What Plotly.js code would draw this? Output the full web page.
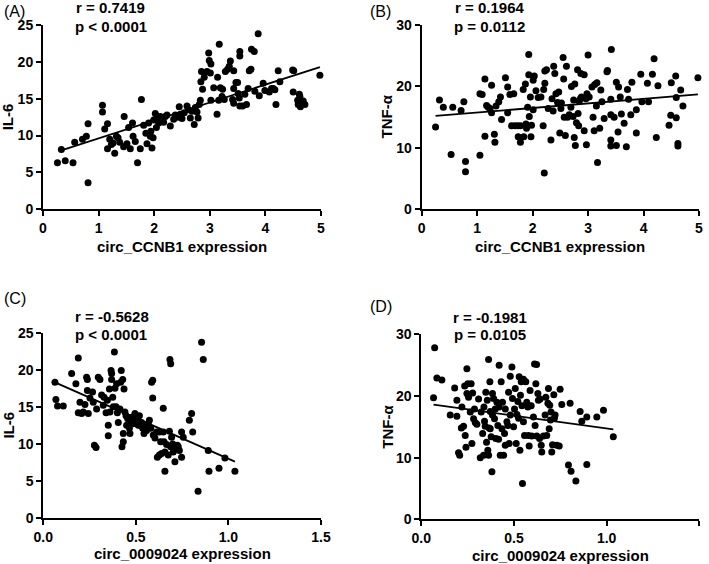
<!DOCTYPE html>
<html>
<head>
<meta charset="utf-8">
<script src="https://cdn.plot.ly/plotly-3.0.1.min.js"></script>
<style>html,body{margin:0;padding:0;background:#fff}#chart{width:709px;height:564px}</style>
</head>
<body>
<div id="chart"></div>
<script>
// ---------- Panel A: circ_CCNB1 vs IL-6 ----------
const aX = [0.26,0.33,0.40,0.54,0.57,0.71,0.78,0.81,0.81,1.07,1.07,1.11,1.16,1.16,1.20,1.23,1.26,1.29,1.32,1.35,1.38,1.45,1.46,1.51,1.54,1.57,1.61,1.62,1.66,1.70,1.75,1.77,1.81,1.85,1.87,1.90,1.93,1.96,1.94,1.98,1.99,2.02,2.04,2.05,2.08,2.11,2.17,2.20,2.23,2.29,2.35,2.38,2.43,2.45,2.47,2.50,2.54,2.59,2.62,2.65,2.68,2.72,2.74,2.77,2.79,2.81,2.83,2.84,2.85,2.87,2.90,2.95,2.98,2.99,3.01,3.02,3.02,3.07,3.13,3.14,3.16,3.17,3.19,3.22,3.23,3.26,3.28,3.32,3.35,3.37,3.41,3.43,3.43,3.43,3.47,3.50,3.51,3.53,3.54,3.54,3.54,3.59,3.63,3.66,3.69,3.71,3.74,3.75,3.80,3.81,3.87,3.89,3.96,3.99,4.07,4.11,4.14,4.17,4.19,4.23,4.26,4.49,4.50,4.51,4.58,4.59,4.61,4.62,4.63,4.65,4.68,4.71,4.98];
const aY = [6.3,8.1,6.6,6.3,9.1,9.5,9.9,11.6,3.6,14.1,13.2,10.9,11.6,8.2,9.5,8.8,9.0,7.6,9.9,9.7,9.1,8.5,12.6,8.9,11.1,8.2,11.7,9.9,9.2,6.3,8.2,14.9,11.4,10.3,8.9,11.7,9.9,8.3,10.6,9.7,12.1,13.0,11.1,12.4,11.7,12.6,11.8,12.6,12.8,11.3,12.2,12.8,12.5,13.9,12.9,12.3,13.1,14.0,13.5,12.4,13.3,11.5,13.8,13.2,12.4,14.2,14.8,17.3,18.7,16.3,17.9,18.7,21.2,20.2,18.5,19.7,14.8,16.5,12.9,17.9,14.8,22.4,16.5,15.3,16.3,14.9,18.7,19.0,19.4,20.1,14.9,16.4,18.8,14.4,17.2,17.2,15.7,15.1,20.8,21.4,14.0,14.0,15.6,14.2,16.4,18.8,19.0,21.7,21.4,16.0,23.8,15.4,17.1,16.1,15.9,16.4,16.4,16.2,14.2,18.8,17.3,18.9,15.9,18.8,14.8,14.2,15.6,15.3,13.9,14.4,14.7,14.2,18.2];
const fitAx = [0.33, 4.98];
const fitAy = [8.0, 19.3];

// ---------- Panel B: circ_CCNB1 vs TNF-α ----------
const bX = [0.25,0.32,0.39,0.53,0.56,0.71,0.76,0.79,0.79,1.05,1.05,1.09,1.14,1.14,1.17,1.20,1.23,1.26,1.26,1.31,1.32,1.34,1.39,1.42,1.44,1.51,1.55,1.55,1.59,1.62,1.66,1.68,1.73,1.74,1.78,1.78,1.83,1.84,1.87,1.88,1.89,1.91,1.93,1.93,1.94,1.96,1.97,1.98,2.01,2.01,2.03,2.06,2.10,2.15,2.20,2.19,2.21,2.22,2.22,2.25,2.28,2.33,2.35,2.37,2.38,2.40,2.42,2.45,2.47,2.49,2.51,2.52,2.55,2.56,2.57,2.59,2.61,2.63,2.66,2.69,2.70,2.73,2.74,2.75,2.76,2.77,2.79,2.81,2.82,2.83,2.84,2.86,2.87,2.88,2.93,2.93,2.96,2.97,2.98,3.00,3.02,3.07,3.09,3.11,3.12,3.15,3.16,3.17,3.21,3.23,3.25,3.29,3.34,3.35,3.41,3.41,3.41,3.41,3.42,3.47,3.51,3.51,3.54,3.55,3.58,3.60,3.65,3.69,3.71,3.73,3.77,3.79,3.87,3.87,3.95,3.97,4.07,4.09,4.16,4.19,4.23,4.26,4.46,4.49,4.50,4.58,4.59,4.59,4.62,4.62,4.67,4.71,4.98];
const bY = [13.4,17.8,16.6,8.9,16.6,16.1,17.5,7.8,6.1,8.8,18.8,18.7,21.2,11.9,16.9,16.6,16.4,15.7,20.2,12.2,10.9,16.8,17.5,18.3,14.6,21.4,15.7,19.9,18.7,13.6,18.8,13.6,13.6,11.8,10.9,13.6,19.5,11.8,20.4,13.9,13.2,16.6,25.2,21.9,15.1,18.3,11.8,13.7,21.0,16.2,21.7,19.3,18.2,18.3,19.5,13.6,5.9,20.5,22.5,22.7,16.4,11.3,18.0,16.0,23.3,22.1,18.8,17.4,19.1,12.4,16.4,17.3,24.7,21.2,15.0,12.0,23.3,15.0,15.4,16.6,20.0,15.1,17.8,11.7,20.4,10.4,14.1,22.7,15.6,13.6,17.6,18.0,22.1,18.3,21.9,12.8,18.0,10.5,18.8,25.1,18.3,19.9,15.0,12.8,20.3,16.8,20.6,7.6,13.2,19.4,17.5,14.8,22.4,22.6,15.4,17.9,11.3,10.3,26.0,15.0,20.7,10.4,12.6,19.9,18.3,15.5,14.0,10.2,19.5,17.9,15.4,20.7,16.2,12.4,22.0,17.5,20.5,17.5,22.0,24.5,11.7,20.1,13.7,15.3,20.6,21.7,18.2,14.9,10.7,10.3,19.4,16.8,21.4];
const fitBx = [0.25, 4.98];
const fitBy = [15.2, 18.7];

// ---------- Panel C: circ_0009024 vs IL-6 ----------
const cX = [0.063,0.068,0.077,0.108,0.153,0.176,0.189,0.189,0.198,0.207,0.216,0.225,0.234,0.238,0.238,0.243,0.252,0.266,0.270,0.276,0.285,0.288,0.297,0.306,0.315,0.324,0.328,0.339,0.346,0.351,0.351,0.357,0.360,0.366,0.369,0.369,0.375,0.378,0.384,0.387,0.393,0.396,0.400,0.405,0.414,0.418,0.421,0.425,0.429,0.432,0.432,0.436,0.441,0.447,0.450,0.456,0.465,0.468,0.472,0.477,0.486,0.495,0.504,0.513,0.519,0.522,0.531,0.537,0.544,0.549,0.558,0.567,0.573,0.580,0.585,0.591,0.591,0.594,0.603,0.612,0.616,0.627,0.627,0.634,0.639,0.648,0.652,0.657,0.648,0.657,0.666,0.675,0.681,0.684,0.688,0.688,0.693,0.699,0.702,0.706,0.711,0.717,0.724,0.729,0.735,0.747,0.747,0.756,0.789,0.801,0.807,0.836,0.855,0.864,0.891,0.895,0.949,0.981,1.035];
const cY = [18.3,16.0,15.1,15.1,19.5,18.1,21.6,14.2,15.6,14.1,14.3,15.3,19.0,18.7,17.2,14.1,16.2,17.0,15.6,9.8,9.5,14.7,19.0,18.7,16.6,15.2,16.3,14.2,15.9,12.5,11.1,17.4,14.3,19.9,19.5,18.7,16.3,15.0,22.4,17.5,15.0,18.1,14.2,12.9,14.7,18.3,19.9,9.6,18.7,11.4,10.3,17.4,14.3,13.8,12.5,13.4,12.1,11.4,13.0,13.6,12.7,14.1,13.4,12.5,13.8,12.5,12.9,12.1,11.4,12.5,11.8,12.7,13.2,12.1,18.3,18.6,16.2,11.2,10.8,11.6,8.2,8.5,11.6,10.3,8.7,11.6,10.3,8.9,14.8,6.3,9.9,8.5,11.7,21.4,20.8,9.6,10.9,10.0,8.9,9.7,7.6,9.4,9.8,9.6,9.1,8.2,11.6,10.9,13.2,14.1,11.6,3.6,23.7,21.4,9.1,6.3,6.7,8.1,6.3];
const fitCx = [0.063, 1.035];
const fitCy = [18.3, 7.6];

// ---------- Panel D: circ_0009024 vs TNF-α ----------
const dX = [0.072,0.066,0.084,0.111,0.156,0.180,0.192,0.192,0.201,0.207,0.216,0.219,0.228,0.234,0.237,0.241,0.246,0.246,0.251,0.255,0.264,0.269,0.273,0.277,0.282,0.287,0.291,0.300,0.309,0.318,0.323,0.331,0.336,0.338,0.341,0.345,0.348,0.352,0.356,0.359,0.363,0.363,0.366,0.370,0.372,0.372,0.377,0.381,0.384,0.384,0.390,0.395,0.399,0.402,0.408,0.413,0.417,0.420,0.420,0.426,0.431,0.435,0.438,0.444,0.449,0.453,0.453,0.462,0.467,0.471,0.474,0.480,0.480,0.489,0.492,0.498,0.503,0.507,0.512,0.516,0.521,0.525,0.528,0.532,0.535,0.539,0.543,0.546,0.551,0.551,0.557,0.564,0.569,0.575,0.578,0.582,0.587,0.593,0.596,0.605,0.611,0.614,0.618,0.622,0.623,0.629,0.632,0.638,0.641,0.647,0.650,0.659,0.668,0.672,0.677,0.683,0.686,0.690,0.693,0.697,0.700,0.704,0.708,0.715,0.718,0.722,0.731,0.744,0.749,0.758,0.794,0.803,0.808,0.834,0.857,0.866,0.893,0.893,0.947,0.983,1.036];
const dY = [27.8,19.7,22.9,22.6,16.9,21.3,19.3,16.7,10.8,10.4,14.8,18.2,15.1,21.6,13.6,11.7,24.4,20.4,22.0,19.8,17.4,22.0,12.3,20.5,16.3,17.9,15.7,15.4,19.5,10.0,17.4,13.9,10.4,18.2,15.9,15.1,20.6,12.5,19.3,11.2,25.9,10.4,14.8,22.3,17.5,14.7,13.4,7.7,20.4,16.9,19.6,16.3,17.9,13.1,19.0,15.2,13.0,25.0,18.2,10.4,22.3,14.7,19.0,10.4,13.9,12.0,17.9,15.8,15.2,20.6,12.3,16.9,23.2,24.7,19.6,15.0,17.9,21.2,12.3,17.0,19.1,16.4,23.1,11.2,20.1,22.3,18.4,5.8,22.7,15.8,13.6,22.3,19.0,18.2,13.6,11.9,20.9,18.4,13.5,16.6,25.2,15.2,22.0,25.1,13.5,20.4,19.3,13.1,19.5,12.0,10.9,13.5,16.9,19.8,13.6,18.8,21.2,14.7,18.5,16.1,17.4,10.9,12.1,20.2,16.4,16.9,12.0,11.9,21.1,18.6,8.8,18.8,7.8,6.2,17.5,15.9,16.6,8.9,16.6,17.7,13.4];
const fitDx = [0.066, 1.036];
const fitDy = [18.6, 14.6];

// ---------- Text ----------
const panelLabels = ['(A)', '(B)', '(C)', '(D)'];
const statR = ['r = 0.7419', 'r = 0.1964', 'r = -0.5628', 'r = -0.1981'];
const statP = ['p < 0.0001', 'p = 0.0112', 'p < 0.0001', 'p = 0.0105'];
const xTitles = ['circ_CCNB1 expression', 'circ_CCNB1 expression', 'circ_0009024 expression', 'circ_0009024 expression'];
const yTitles = ['IL-6', 'TNF-α', 'IL-6', 'TNF-α'];
const xTicksAB = [0, 1, 2, 3, 4, 5];
const xTicksCD = [0, 0.5, 1.0, 1.5];
const xTickTextCD = ['0.0', '0.5', '1.0', '1.5'];
const yTicksIL6 = [0, 5, 10, 15, 20, 25];
const yTicksTNF = [0, 10, 20, 30];

// ---------- Layout geometry (pixels) ----------
const W = 709, H = 564;
const px = v => v / W;
const py = v => 1 - v / H;
const FONT = 'Liberation Sans, Arial, sans-serif';

const panels = [
  {x: aX, y: aY, fx: fitAx, fy: fitAy, xd: [43, 321], yd: [209.3, 25], xr: [0, 5], yr: [0, 25], xt: xTicksAB, xtt: null, yt: yTicksIL6,
   lab: [2, 11.7], r: [110.8, 7.3], p: [110.8, 26], xtitle: [182, 246.7], ytitle: [8.3, 117]},
  {x: bX, y: bY, fx: fitBx, fy: fitBy, xd: [421.7, 699], yd: [209.3, 25], xr: [0, 5], yr: [0, 30], xt: xTicksAB, xtt: null, yt: yTicksTNF,
   lab: [367.7, 11.7], r: [489.5, 7.5], p: [489.7, 26.3], xtitle: [560, 246.7], ytitle: [386.7, 116.7]},
  {x: cX, y: cY, fx: fitCx, fy: fitCy, xd: [43.3, 321], yd: [518, 332.7], xr: [0, 1.5], yr: [0, 25], xt: xTicksCD, xtt: xTickTextCD, yt: yTicksIL6,
   lab: [2, 298.3], r: [111.7, 316], p: [110.5, 334.3], xtitle: [182, 553.7], ytitle: [8.3, 425.3]},
  {x: dX, y: dY, fx: fitDx, fy: fitDy, xd: [421.3, 699.3], yd: [519.3, 334.3], xr: [0, 1.5], yr: [0, 30], xt: xTicksCD, xtt: xTickTextCD, yt: yTicksTNF,
   lab: [367.7, 306.5], r: [490, 317], p: [490.3, 334.7], xtitle: [560, 555.3], ytitle: [386.7, 427]}
];

const traces = [];
const layout = {
  width: W, height: H,
  margin: {l: 0, r: 0, t: 0, b: 0},
  paper_bgcolor: '#fff', plot_bgcolor: '#fff',
  showlegend: false,
  font: {family: FONT, color: '#000'},
  annotations: []
};

panels.forEach((pn, i) => {
  const sfx = i === 0 ? '' : String(i + 1);
  const xa = 'x' + sfx, ya = 'y' + sfx;
  traces.push({
    type: 'scatter', mode: 'markers', x: pn.x, y: pn.y, xaxis: xa, yaxis: ya,
    marker: {color: '#000', size: 7}, cliponaxis: false, hoverinfo: 'skip'
  });
  traces.push({
    type: 'scatter', mode: 'lines', x: pn.fx, y: pn.fy, xaxis: xa, yaxis: ya,
    line: {color: '#000', width: 1.8}, cliponaxis: false, hoverinfo: 'skip'
  });
  const axCommon = {
    showline: true, linecolor: '#000', linewidth: 2,
    ticks: 'outside', ticklen: 5, tickwidth: 2, tickcolor: '#000',
    showgrid: false, zeroline: false, fixedrange: true,
    tickfont: {family: FONT, size: 14, color: '#000', weight: 'bold'}
  };
  layout['xaxis' + sfx] = Object.assign({}, axCommon, {
    domain: [px(pn.xd[0]), px(pn.xd[1])], range: pn.xr, anchor: ya,
    tickmode: 'array', tickvals: pn.xt, ticktext: pn.xtt || pn.xt.map(String)
  });
  layout['yaxis' + sfx] = Object.assign({}, axCommon, {
    domain: [py(pn.yd[0]), py(pn.yd[1])], range: pn.yr, anchor: xa,
    tickmode: 'array', tickvals: pn.yt
  });
  const ann = (text, pos, opts) => layout.annotations.push(Object.assign({
    text: text, xref: 'paper', yref: 'paper', x: px(pos[0]), y: py(pos[1]),
    showarrow: false, xanchor: 'center', yanchor: 'middle',
    font: {family: FONT, size: 15, color: '#000', weight: 'bold'}
  }, opts || {}));
  ann(panelLabels[i], pn.lab, {xanchor: 'left', font: {family: FONT, size: 16, color: '#000'}});
  ann(statR[i], pn.r);
  ann(statP[i], pn.p);
  ann(xTitles[i], pn.xtitle);
  ann(yTitles[i], pn.ytitle, {textangle: -90});
});

Plotly.newPlot('chart', traces, layout, {staticPlot: true, displayModeBar: false});
</script>
</body>
</html>
